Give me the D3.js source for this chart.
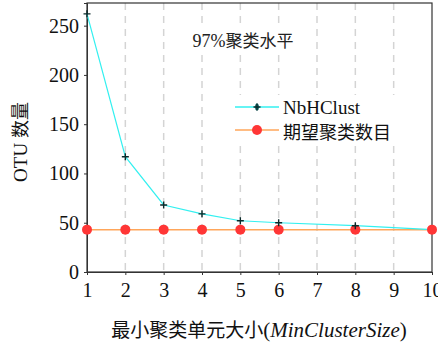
<!DOCTYPE html>
<html>
<head>
<meta charset="utf-8">
<script src="https://d3js.org/d3.v7.min.js"></script>
<style>
  html, body { margin: 0; padding: 0; background: #fff; }
  svg { display: block; }
</style>
</head>
<body>
<svg id="chart" width="438" height="345"></svg>
<script>
// data
var xTicks = [1, 2, 3, 4, 5, 6, 7, 8, 9, 10];
var yTicks = [0, 50, 100, 150, 200, 250];
var sizes = [1, 2, 3, 4, 5, 6, 8, 10];
var nbhclust = [262, 117, 68, 59, 52, 50, 47, 43];
var expected = [43, 43, 43, 43, 43, 43, 43, 43];
var seriesNames = ["NbHClust", "期望聚类数目"];

var svg = d3.select("#chart");
var plotL = 87, plotR = 432, plotT = 3, plotB = 272;
var serif = "'Liberation Serif', 'Times New Roman', serif";
var cjk = "'Noto Sans CJK SC', sans-serif";

var x = d3.scaleLinear().domain([1, 10]).range([plotL, plotR]);
var y = d3.scaleLinear().domain([0, 273]).range([plotB, plotT]);

// dashed vertical grid
svg.append("g").selectAll("line")
    .data(xTicks.slice(1, -1))
    .enter().append("line")
    .attr("x1", d => x(d)).attr("x2", d => x(d))
    .attr("y1", plotT).attr("y2", plotB)
    .attr("stroke", "#d4d4d4")
    .attr("stroke-width", 1.5)
    .attr("stroke-dasharray", "7,6");

// white patches behind title and legend (grid is hidden there)
svg.append("rect").attr("x", 180).attr("y", 28).attr("width", 126).attr("height", 22).attr("fill", "#fff");
svg.append("rect").attr("x", 232).attr("y", 95).attr("width", 175).attr("height", 48).attr("fill", "#fff");

// frame
svg.append("rect")
    .attr("x", plotL).attr("y", plotT)
    .attr("width", plotR - plotL).attr("height", plotB - plotT)
    .attr("fill", "none").attr("stroke", "#333").attr("stroke-width", 1.2);

// axes
var yAxis = svg.append("g")
    .attr("transform", "translate(" + plotL + ",0)")
    .call(d3.axisLeft(y).tickValues(yTicks).tickSize(3).tickPadding(5));
var xAxis = svg.append("g")
    .attr("transform", "translate(0," + plotB + ")")
    .call(d3.axisBottom(x).tickValues(xTicks).tickSize(3).tickPadding(8));
[xAxis, yAxis].forEach(function(a) {
    a.select(".domain").attr("stroke", "#333");
    a.selectAll(".tick line").attr("stroke", "#333");
    a.selectAll("text").attr("font-family", serif).attr("font-size", 20).attr("fill", "#111");
});

// lines
var line = d3.line().x((d, i) => x(sizes[i])).y(d => y(d));
svg.append("path").datum(expected)
    .attr("d", line).attr("fill", "none")
    .attr("stroke", "#ffa65a").attr("stroke-width", 1.5);
svg.append("path").datum(nbhclust)
    .attr("d", line).attr("fill", "none")
    .attr("stroke", "#33f0f0").attr("stroke-width", 1.2);

svg.append("g").selectAll("circle")
    .data(expected).enter().append("circle")
    .attr("cx", (d, i) => x(sizes[i])).attr("cy", d => y(d))
    .attr("r", 5).attr("fill", "#ff3636");

function plus(g, cx, cy) {
    g.append("path")
        .attr("d", "M" + (cx - 3.5) + "," + cy + "h7M" + cx + "," + (cy - 3.5) + "v7")
        .attr("stroke", "#0a2a2a").attr("stroke-width", 1.4);
}
var pg = svg.append("g");
nbhclust.forEach(function(d, i) { if (i < nbhclust.length - 1) plus(pg, x(sizes[i]), y(d)); });

// title
var tt = svg.append("text")
    .attr("x", 243).attr("y", 47)
    .attr("text-anchor", "middle")
    .attr("font-size", 17).attr("fill", "#222");
tt.append("tspan").attr("font-family", serif).attr("font-size", 18).text("97%");
tt.append("tspan").attr("font-family", cjk).text("聚类水平");

// legend
var lg = svg.append("g");
lg.append("line").attr("x1", 235).attr("x2", 279).attr("y1", 107).attr("y2", 107)
    .attr("stroke", "#33f0f0").attr("stroke-width", 1.5);
lg.append("ellipse").attr("cx", 257).attr("cy", 107).attr("rx", 2).attr("ry", 3.5).attr("fill", "#1a7a7a");
plus(lg, 257, 107);
lg.append("line").attr("x1", 235).attr("x2", 279).attr("y1", 130).attr("y2", 130)
    .attr("stroke", "#ffa65a").attr("stroke-width", 1.5);
lg.append("circle").attr("cx", 257).attr("cy", 130).attr("r", 5).attr("fill", "#ff3636");
lg.append("text").attr("x", 283).attr("y", 114)
    .attr("font-family", serif).attr("font-size", 19).attr("fill", "#111")
    .text(seriesNames[0]);
lg.append("text").attr("x", 283).attr("y", 139)
    .attr("font-family", cjk).attr("font-size", 18).attr("fill", "#111")
    .text(seriesNames[1]);

// axis titles
var yt = svg.append("text")
    .attr("transform", "translate(27,142) rotate(-90)")
    .attr("text-anchor", "middle")
    .attr("font-size", 18).attr("fill", "#111");
yt.append("tspan").attr("font-family", serif).attr("font-size", 19).text("OTU ");
yt.append("tspan").attr("font-family", cjk).text("数量");

var xt = svg.append("text")
    .attr("x", 259).attr("y", 337)
    .attr("text-anchor", "middle")
    .attr("font-size", 21).attr("fill", "#111");
xt.append("tspan").attr("font-family", cjk).attr("font-size", 19).text("最小聚类单元大小");
xt.append("tspan").attr("font-family", serif).text("(");
xt.append("tspan").attr("font-family", serif).attr("font-style", "italic").text("MinClusterSize");
xt.append("tspan").attr("font-family", serif).text(")");
</script>
</body>
</html>
